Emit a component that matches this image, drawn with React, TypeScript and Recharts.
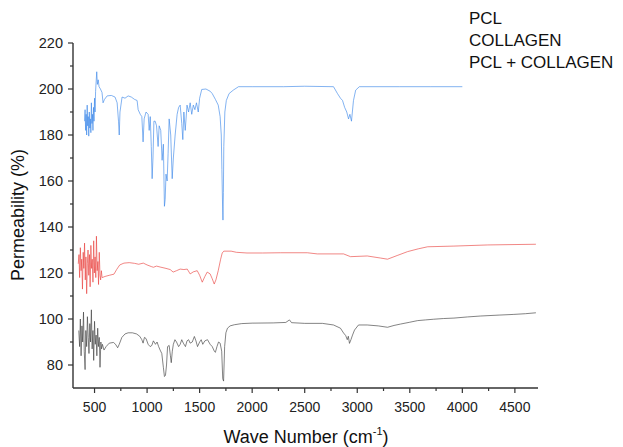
import React from 'react';
import { LineChart, Line, XAxis, YAxis, Customized } from 'recharts';

// ---- Data (wave number in cm^-1, permeability in %) ----
const pclWave = [350, 358, 365, 372, 380, 387, 395, 402, 410, 417, 425, 432, 440, 447, 455, 462, 470, 477, 485, 492, 500, 507, 515, 522, 530, 537, 545, 552, 560, 567, 575,
  590, 610, 640, 680, 700, 720, 735, 760, 790, 820, 860, 900, 930, 950, 962, 975, 990, 1010, 1029, 1045, 1060, 1080, 1095, 1110, 1124, 1140, 1155, 1165, 1175, 1185, 1195, 1210, 1222, 1230, 1240, 1250, 1265, 1280, 1300, 1315, 1330, 1345, 1365, 1380, 1395, 1410, 1430, 1450, 1465, 1480, 1500, 1515, 1530, 1550, 1575, 1600, 1620, 1640, 1650, 1665, 1680, 1695, 1710, 1720, 1728, 1738, 1750, 1765, 1790, 1830, 1900, 2000, 2200, 2320, 2355, 2375, 2500, 2668, 2774, 2840, 2870, 2890, 2905, 2915, 2926, 2940, 2955, 2974, 3012, 3095, 3200, 3288, 3350, 3412, 3500, 3574, 3650, 3727, 3820, 3920, 4050, 4175, 4350, 4490, 4600, 4700];
const pclValues = [95, 88, 100, 84, 97, 90, 103, 86, 78, 95, 88, 101, 92, 85, 98, 90, 104, 87, 95, 82, 99, 89, 93, 84, 96, 88, 92, 79, 90, 87, 89,
  86.5, 88, 89.5, 89.8, 89, 87.5, 89, 92, 93.5, 94, 94, 93.5, 92.5, 91, 89.5, 92, 91.5, 89, 88, 88.5, 90.5, 89, 90, 88, 86.5, 85, 79, 75, 75.5, 80, 88, 88.5, 84, 81, 86, 89, 91, 90, 88, 89, 91, 89.5, 88, 90.5, 91, 89.5, 90, 92.4, 90.5, 88, 90, 91, 89, 90.5, 91, 89, 88, 86, 85.5, 88, 90, 89.5, 86, 74, 73, 88, 94, 96, 97, 97.5, 98, 98.2, 98.3, 98.5, 99.6, 98.4, 98.1, 98.1, 97.4, 96, 93.9, 92.8, 91, 92.5, 89.4, 91, 93, 95.2, 97.4, 97.4, 97, 96.4, 97.2, 97.8, 98.6, 99.3, 99.6, 99.9, 100.2, 100.4, 100.9, 101.3, 101.7, 102, 102.3, 102.7];

const collagenWave = [345, 352, 358, 365, 372, 378, 385, 392, 398, 405, 412, 418, 425, 432, 438, 445, 452, 458, 465, 472, 478, 485, 492, 498, 505, 512, 518, 525, 532, 538, 545, 552, 558, 565, 572,
  600, 640, 685, 710, 740, 780, 830, 880, 920, 964, 1000, 1040, 1060, 1090, 1124, 1180, 1220, 1248, 1280, 1315, 1350, 1382, 1410, 1440, 1477, 1500, 1525, 1550, 1572, 1600, 1620, 1639, 1655, 1677, 1700, 1715, 1730, 1800, 1850, 1950, 2100, 2268, 2525, 2620, 2870, 2936, 3095, 3222, 3288, 3380, 3479, 3580, 3670, 3920, 4242, 4700];
const collagenValues = [124, 128, 118, 131, 121, 126, 113, 129, 122, 133, 117, 127, 111, 124, 130, 119, 128, 114, 132, 122, 126, 116, 134, 120, 127, 118, 136, 121, 125, 115, 129, 119, 117, 121, 118,
  118.5, 119, 119.5, 121.5, 123.5, 124.3, 124.5, 124.2, 123.8, 124.3, 123.5, 122.8, 122.5, 123, 122.6, 122, 121.5, 120.4, 121, 121.7, 121.5, 121.7, 119.6, 120.5, 121, 119, 116, 118.5, 120.4, 119.6, 117.5, 115.2, 117, 121, 126, 128.7, 129.5, 129.5, 129, 128.7, 128.7, 128.8, 128.8, 128.3, 128.3, 127.1, 127.4, 126.5, 126, 127.6, 129.3, 130.5, 131.4, 131.7, 132.2, 132.5];

const blendWave = [405, 410, 415, 420, 425, 430, 435, 440, 445, 450, 455, 460, 465, 470, 475, 480, 485, 490, 495, 500, 505, 510, 515, 521, 527, 535, 543, 556, 571, 581, 595, 620, 660, 695, 715, 728, 735, 742, 762, 790, 820, 850, 880, 905, 915, 935, 950, 962, 972, 990, 1010, 1020, 1030, 1040, 1048, 1056, 1065, 1077, 1090, 1105, 1115, 1130, 1143, 1155, 1165, 1172, 1180, 1191, 1200, 1210, 1225, 1239, 1250, 1267, 1286, 1300, 1315, 1330, 1340, 1350, 1363, 1380, 1395, 1410, 1425, 1440, 1455, 1470, 1487, 1500, 1520, 1560, 1601, 1620, 1650, 1677, 1695, 1706, 1712, 1718, 1722, 1726, 1730, 1740, 1754, 1780, 1820, 1870, 2000, 2300, 2500, 2774, 2812, 2840, 2860, 2880, 2900, 2917, 2930, 2945, 2964, 2985, 3020, 3400, 3700, 4000];
const blendValues = [186, 191, 182, 189, 180, 193, 184, 188, 179.5, 190, 183, 187, 181, 194, 185, 189, 182, 192, 186, 196, 190, 199, 203, 207.5, 202, 204, 201, 200, 198.5, 194, 195.5, 197, 197.2, 196.5, 194, 186, 180, 190, 196.5, 196, 197, 196.5, 195.5, 195, 191, 189, 188, 177, 187, 190, 189, 182, 188, 175, 161, 170, 186, 186, 184, 175, 184, 182, 169, 176, 149, 152, 163, 160, 172, 187, 180, 161, 170, 180, 189, 192, 193, 185, 178, 190, 182, 193, 190, 194, 189, 193, 191, 194, 190, 196, 199.8, 200, 199, 198, 195.5, 193, 188, 180, 165, 150, 143, 155, 175, 190, 195, 198, 199.5, 201, 201, 201, 201.2, 201, 198, 196, 195, 192, 190, 187, 189, 186, 195, 199.5, 201, 201, 201, 201];

const xTicks = [500, 750, 1000, 1250, 1500, 1750, 2000, 2250, 2500, 2750, 3000, 3250, 3500, 3750, 4000, 4250, 4500];
const yTicks = [80, 90, 100, 110, 120, 130, 140, 150, 160, 170, 180, 190, 200, 210, 220];
const legendLabels = ['PCL', 'COLLAGEN', 'PCL + COLLAGEN'];
const xTitle = 'Wave Number (cm';
const yTitle = 'Permeability (%)';

const toData = (w: number[], v: number[]) => w.map((x, i) => ({ x, y: v[i] }));
const pclData = toData(pclWave, pclValues);
const collagenData = toData(collagenWave, collagenValues);
const blendData = toData(blendWave, blendValues);

const FONT = '"Liberation Sans", Arial, Helvetica, sans-serif';
const AXIS = '#333333';

const XTick = (props: any) => {
  const { x, y, payload } = props;
  const v = payload.value;
  const major = v % 500 === 0;
  return (
    <g>
      <line x1={x} x2={x} y1={y} y2={y + (major ? 5 : 3)} stroke={AXIS} strokeWidth={1.2} />
      {major && (
        <text x={x} y={y + 24} textAnchor="middle" fontSize={14} fill="#222" fontFamily={FONT}>
          {v}
        </text>
      )}
    </g>
  );
};

const YTick = (props: any) => {
  const { x, y, payload } = props;
  const v = payload.value;
  const major = v % 20 === 0;
  return (
    <g>
      <line x1={x} x2={x - (major ? 5 : 3)} y1={y} y2={y} stroke={AXIS} strokeWidth={1.2} />
      {major && (
        <text x={x - 10} y={y + 5} textAnchor="end" fontSize={14.5} fill="#222" fontFamily={FONT}>
          {v}
        </text>
      )}
    </g>
  );
};

const Overlay = () => (
  <g fontFamily={FONT} fill="#111">
    <text x={306} y={443} textAnchor="middle" fontSize={18}>
      {xTitle}
      <tspan fontSize={11} dy={-8}>-1</tspan>
      <tspan dy={8}>)</tspan>
    </text>
    <text x={24} y={215} textAnchor="middle" fontSize={18} transform="rotate(-90 24 215)">
      {yTitle}
    </text>
    {legendLabels.map((l, i) => (
      <text key={l} x={469} y={24 + i * 22} fontSize={17}>
        {l}
      </text>
    ))}
  </g>
);

export default function App() {
  return (
    <div style={{ position: 'absolute', left: 0, top: 0, background: '#fff' }}>
      <LineChart width={623} height={447} margin={{ top: 43, right: 85, bottom: 0, left: 0 }}>
        <XAxis
          dataKey="x"
          type="number"
          domain={[295, 4720]}
          ticks={xTicks}
          interval={0}
          allowDataOverflow
          height={59}
          tickSize={0}
          tickMargin={0}
          tickLine={false}
          tick={<XTick />}
          axisLine={{ stroke: AXIS, strokeWidth: 1.4 }}
        />
        <YAxis
          type="number"
          domain={[70, 220]}
          ticks={yTicks}
          interval={0}
          allowDataOverflow
          width={73}
          tickSize={0}
          tickMargin={0}
          tickLine={false}
          tick={<YTick />}
          axisLine={{ stroke: AXIS, strokeWidth: 1.4 }}
        />
        <Line data={pclData} dataKey="y" stroke="#3b3b3b" strokeWidth={0.7} strokeOpacity={0.9} dot={false} isAnimationActive={false} name="PCL" />
        <Line data={collagenData} dataKey="y" stroke="#e8403c" strokeWidth={0.7} strokeOpacity={0.9} dot={false} isAnimationActive={false} name="COLLAGEN" />
        <Line data={blendData} dataKey="y" stroke="#3a86e8" strokeWidth={0.7} strokeOpacity={0.9} dot={false} isAnimationActive={false} name="PCL + COLLAGEN" />
        <Customized component={Overlay} />
      </LineChart>
    </div>
  );
}
